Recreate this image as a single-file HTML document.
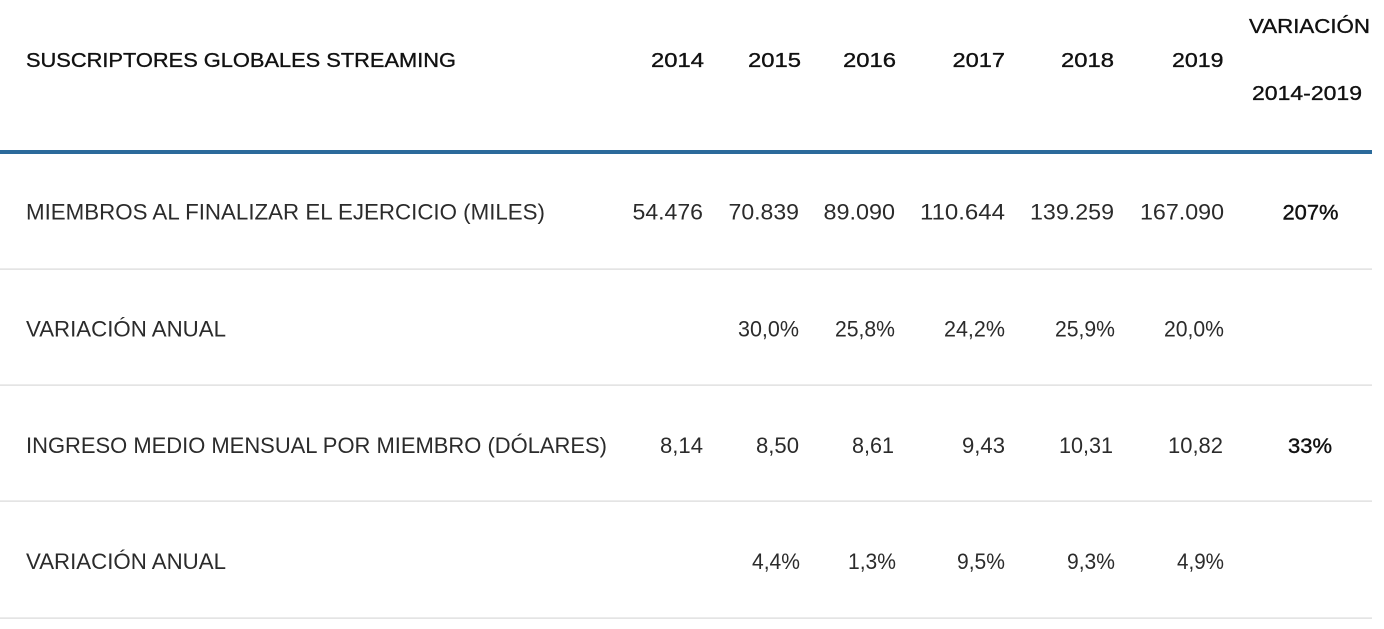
<!DOCTYPE html>
<html>
<head>
<meta charset="utf-8">
<style>
  html, body { margin:0; padding:0; background:#fff; }
  body { width:1384px; height:629px; overflow:hidden; }
  svg { display:block; }
  .h { font-family:"Liberation Sans", sans-serif; font-size:20.5px; fill:#111; stroke:#111; stroke-width:0.35px; }
  .b { font-family:"Liberation Sans", sans-serif; font-size:22px; fill:#2b2b2b; }
  .bb { font-family:"Liberation Sans", sans-serif; font-size:21px; fill:#111; stroke:#111; stroke-width:0.4px; }
</style>
</head>
<body>
<svg width="1384" height="629" viewBox="0 0 1384 629" xmlns="http://www.w3.org/2000/svg">
  <rect x="0" y="0" width="1384" height="629" fill="#fff"/>

  <!-- Header -->
  <text class="h" x="26" y="67" textLength="430" lengthAdjust="spacingAndGlyphs">SUSCRIPTORES GLOBALES STREAMING</text>
  <text class="h" x="651" y="67" textLength="53" lengthAdjust="spacingAndGlyphs">2014</text>
  <text class="h" x="748" y="67" textLength="53" lengthAdjust="spacingAndGlyphs">2015</text>
  <text class="h" x="843" y="67" textLength="53" lengthAdjust="spacingAndGlyphs">2016</text>
  <text class="h" x="952.5" y="67" textLength="52.5" lengthAdjust="spacingAndGlyphs">2017</text>
  <text class="h" x="1061" y="67" textLength="53" lengthAdjust="spacingAndGlyphs">2018</text>
  <text class="h" x="1172" y="67" textLength="51.5" lengthAdjust="spacingAndGlyphs">2019</text>
  <text class="h" x="1249" y="33" textLength="121" lengthAdjust="spacingAndGlyphs">VARIACIÓN</text>
  <text class="h" x="1252" y="100" textLength="110" lengthAdjust="spacingAndGlyphs">2014-2019</text>

  <!-- Blue rule -->
  <rect x="0" y="150" width="1372" height="4" fill="#2b6a9b"/>

  <!-- Row 1 -->
  <text class="b" x="26" y="219.5" textLength="519" lengthAdjust="spacingAndGlyphs">MIEMBROS AL FINALIZAR EL EJERCICIO (MILES)</text>
  <text class="b" x="632.5" y="219.5" textLength="70.5" lengthAdjust="spacingAndGlyphs">54.476</text>
  <text class="b" x="728.5" y="219.5" textLength="70.5" lengthAdjust="spacingAndGlyphs">70.839</text>
  <text class="b" x="823.5" y="219.5" textLength="71.5" lengthAdjust="spacingAndGlyphs">89.090</text>
  <text class="b" x="920" y="219.5" textLength="85" lengthAdjust="spacingAndGlyphs">110.644</text>
  <text class="b" x="1030" y="219.5" textLength="84" lengthAdjust="spacingAndGlyphs">139.259</text>
  <text class="b" x="1140" y="219.5" textLength="84" lengthAdjust="spacingAndGlyphs">167.090</text>
  <text class="bb" x="1282.5" y="219.5" textLength="56" lengthAdjust="spacingAndGlyphs">207%</text>
  <rect x="0" y="268.5" width="1372" height="1.2" fill="#d9d9d9"/>

  <!-- Row 2 -->
  <text class="b" x="26" y="336.5" textLength="200" lengthAdjust="spacingAndGlyphs">VARIACIÓN ANUAL</text>
  <text class="b" x="738" y="336.5" textLength="61" lengthAdjust="spacingAndGlyphs">30,0%</text>
  <text class="b" x="835" y="336.5" textLength="60" lengthAdjust="spacingAndGlyphs">25,8%</text>
  <text class="b" x="944" y="336.5" textLength="61" lengthAdjust="spacingAndGlyphs">24,2%</text>
  <text class="b" x="1055" y="336.5" textLength="60" lengthAdjust="spacingAndGlyphs">25,9%</text>
  <text class="b" x="1164" y="336.5" textLength="60" lengthAdjust="spacingAndGlyphs">20,0%</text>
  <rect x="0" y="384.5" width="1372" height="1.2" fill="#d9d9d9"/>

  <!-- Row 3 -->
  <text class="b" x="26" y="453" textLength="581" lengthAdjust="spacingAndGlyphs">INGRESO MEDIO MENSUAL POR MIEMBRO (DÓLARES)</text>
  <text class="b" x="660" y="453" textLength="43" lengthAdjust="spacingAndGlyphs">8,14</text>
  <text class="b" x="756" y="453" textLength="43" lengthAdjust="spacingAndGlyphs">8,50</text>
  <text class="b" x="852" y="453" textLength="42" lengthAdjust="spacingAndGlyphs">8,61</text>
  <text class="b" x="962" y="453" textLength="43" lengthAdjust="spacingAndGlyphs">9,43</text>
  <text class="b" x="1059" y="453" textLength="54" lengthAdjust="spacingAndGlyphs">10,31</text>
  <text class="b" x="1168" y="453" textLength="55" lengthAdjust="spacingAndGlyphs">10,82</text>
  <text class="bb" x="1288" y="453" textLength="44" lengthAdjust="spacingAndGlyphs">33%</text>
  <rect x="0" y="500.5" width="1372" height="1.2" fill="#d9d9d9"/>

  <!-- Row 4 -->
  <text class="b" x="26" y="569" textLength="200" lengthAdjust="spacingAndGlyphs">VARIACIÓN ANUAL</text>
  <text class="b" x="752" y="569" textLength="48" lengthAdjust="spacingAndGlyphs">4,4%</text>
  <text class="b" x="848" y="569" textLength="48" lengthAdjust="spacingAndGlyphs">1,3%</text>
  <text class="b" x="957" y="569" textLength="48" lengthAdjust="spacingAndGlyphs">9,5%</text>
  <text class="b" x="1067" y="569" textLength="48" lengthAdjust="spacingAndGlyphs">9,3%</text>
  <text class="b" x="1177" y="569" textLength="47" lengthAdjust="spacingAndGlyphs">4,9%</text>
  <rect x="0" y="617.5" width="1372" height="1.2" fill="#d9d9d9"/>
</svg>
</body>
</html>
